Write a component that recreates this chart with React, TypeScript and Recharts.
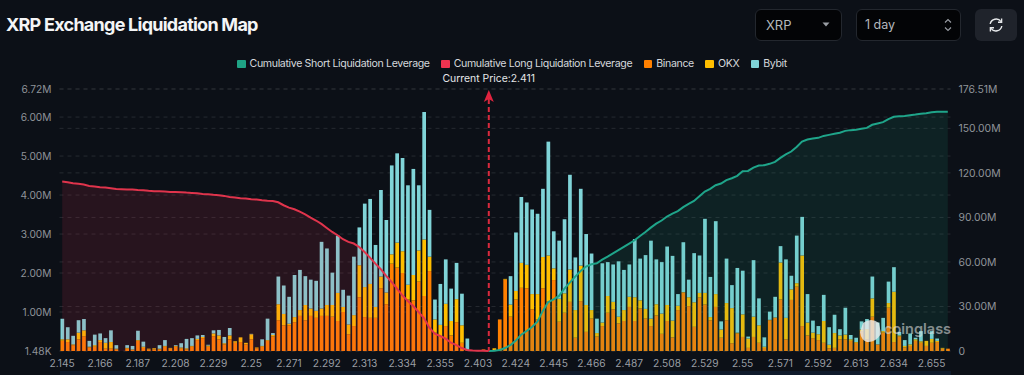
import {
  Area,
  Bar,
  CartesianGrid,
  ComposedChart,
  Legend,
  ReferenceLine,
  XAxis,
  YAxis,
} from "recharts";

// values in millions
const priceLabels = [
  "2.145", "2.166", "2.187", "2.208", "2.229", "2.25", "2.271", "2.292",
  "2.313", "2.334", "2.355", "2.403", "2.424", "2.445", "2.466", "2.487",
  "2.508", "2.529", "2.55", "2.571", "2.592", "2.613", "2.634", "2.655",
];

const binance = [
  0.26, 0.23, 0.15, 0.3, 0.38, 0.09, 0.11, 0.23, 0.06, 0.06, 0.04, 0, 0.06, 0.03, 0.26, 0.08, 0.04, 0.04, 0.04, 0.11,
  0.06, 0.11, 0.06, 0.04, 0.11, 0.28, 0.33, 0.11, 0.38, 0.3, 0.17, 0.3, 0.21, 0.23, 0.17, 0.3, 0.07, 0.11, 0.26, 0.37,
  0.79, 0.66, 0.66, 0.74, 0.9, 0.79, 0.9, 0.85, 0.9, 0.9, 0.88, 0.77, 1.0, 0.43, 0.64, 1.38, 0.87, 0.85, 0.85, 1.61,
  1.2, 2.24, 2.14, 2.0, 1.32, 1.3, 1.78, 1.41, 2.05, 0.47, 0.36, 0.64, 0.4, 0.74, 0.21, 0.02, 0.01, 0.01, 0.04, 0.01,
  0.02, 0.81, 1.83, 0.88, 1.32, 1.62, 1.61, 1.07, 0.81, 1.61, 1.28, 1.82, 0.75, 0.98, 1.26, 0.34, 1.28, 0.49, 0.83, 0.37,
  0.64, 0.98, 1.07, 0.71, 0.77, 1.13, 0.77, 1.09, 0.83, 0.64, 0.91, 0.44, 0.77, 0.35, 1.05, 1.5, 1.15, 0.62, 1.37, 1.19,
  0.79, 1.13, 0.34, 0.79, 0.2, 0.45, 0.36, 0.08, 0.36, 0.21, 0.08, 0.79, 0.85, 1.32, 0.3, 1.31, 1.65, 0.64, 0.4, 0.33,
  0.28, 0.21, 0.07, 0.08, 0.3, 0.3, 0.26, 0.21, 0.51, 0.3, 0.88, 0.17, 0.47, 1.11, 0.23, 0.37, 0.09, 0.13, 0.26, 0.21,
  0.13, 0.21, 0.23, 0.06, 0.06,
];

const okx = [
  0.04, 0.07, 0.02, 0.17, 0.15, 0.02, 0.04, 0.05, 0.15, 0.17, 0.02, 0, 0.02, 0.01, 0.02, 0.03, 0.02, 0.03, 0.02, 0.02,
  0.02, 0.02, 0.03, 0.03, 0.02, 0.03, 0.03, 0.03, 0.07, 0.1, 0.03, 0.1, 0.04, 0.12, 0.04, 0.13, 0.02, 0.02, 0.02, 0.04,
  0.41, 0.29, 0.04, 0.13, 0.15, 0.39, 0.19, 0.18, 0.19, 0.28, 0.3, 0.72, 0.13, 0.25, 0.28, 0.82, 0.77, 0.87, 0.28, 0.3,
  0.3, 0.24, 0.64, 0.56, 0.38, 0.65, 0.8, 1.45, 0.37, 0.34, 0.31, 0.57, 0.37, 0.59, 0.45, 0.01, 0, 0, 0, 0,
  0.05, 0, 0.02, 0.31, 0.22, 0.64, 0.6, 0.39, 0.65, 0.8, 1.17, 0.3, 0.59, 0.5, 0.83, 0.71, 0.91, 0.69, 0.22, 0.09,
  0.09, 0.43, 0.19, 0.17, 0.28, 0.26, 0.61, 0.21, 0.25, 0.19, 0.29, 0.52, 0.41, 0.43, 0.11, 0.01, 0.23, 0.63, 0.12, 0.3,
  0.08, 0.33, 0.21, 0.44, 0.9, 0.02, 0.58, 0.24, 0.52, 0.45, 0.03, 0.01, 0.01, 0.95, 0.55, 0.27, 0.09, 1.81, 0.33, 0.14,
  0.15, 0.56, 0.09, 0.38, 0.1, 0.12, 0.04, 0.02, 0.04, 0.26, 0.47, 0, 0.04, 0.12, 1.29, 0.03, 0.04, 0.04, 0.04, 0.04,
  0.13, 0.1, 0.03, 0.02, 0,
];

const bybit = [
  0.53, 0.31, 0.22, 0.32, 0.29, 0.15, 0.27, 0.17, 0.12, 0.3, 0.09, 0, 0.07, 0.09, 0.24, 0.13, 0, 0, 0.09, 0.15,
  0, 0.02, 0.11, 0.24, 0.2, 0.09, 0.05, 0.02, 0.08, 0.14, 0.16, 0.19, 0, 0, 0, 0.01, 0, 0.17, 0.55, 0.05,
  0.71, 0.73, 0.69, 1.08, 1.03, 0.74, 0.74, 0.77, 1.71, 1.45, 0.83, 1.47, 0.44, 0.74, 1.5, 0.97, 2.14, 2.18, 1.59, 2.22,
  1.86, 2.28, 2.29, 2.39, 2.55, 2.72, 1.67, 3.27, 1.2, 0.51, 1.05, 1.14, 0.83, 0.93, 0.81, 0.29, 0, 0, 0, 0,
  0, 0, 0, 0.73, 1.5, 1.69, 1.6, 2.17, 2.06, 1.75, 2.92, 0.95, 1.49, 1.9, 2.43, 1.35, 1.97, 1.82, 1.45, 0.37,
  1.52, 0.87, 0.96, 1.42, 1.03, 0.83, 1.49, 1.07, 1.38, 2.0, 1.15, 1.32, 1.5, 1.66, 0.3, 1.28, 0.45, 1.26, 0.96, 1.9,
  1.03, 1.87, 0.21, 1.14, 0.59, 1.66, 1.12, 0.05, 1.45, 0.69, 0.24, 0.21, 0.53, 0.42, 1.5, 0.35, 1.22, 0.99, 0.73, 0.31,
  0.21, 0.67, 0.45, 0.47, 0.16, 0.69, 0.11, 0.11, 0.21, 0.26, 0.56, 0.56, 0.34, 0.55, 0.63, 0.09, 0.15, 0.28, 0.04, 0.26,
  0, 0.2, 0.06, 0, 0,
];

// cumulative long covers the left side up to the current price
const cumulativeLong = [
  114.2, 113.7, 113.0, 112.6, 112.1, 111.2, 110.8, 110.3, 110.1, 109.7, 109.2, 109.0, 108.8, 108.8, 108.5, 108.3, 107.9, 107.6, 107.6, 107.4,
  107.2, 107.2, 107.0, 106.7, 106.5, 106.3, 105.8, 105.6, 105.2, 104.9, 104.5, 103.8, 103.4, 102.9, 102.7, 102.2, 102.0, 101.6, 101.3, 101.1,
  100.2, 98.2, 96.6, 95.5, 93.9, 92.1, 89.9, 87.9, 85.6, 82.9, 80.2, 78.0, 75.3, 73.5, 72.4, 70.1, 66.7, 62.9, 58.9, 55.1,
  50.6, 46.5, 42.0, 37.5, 33.7, 30.3, 26.3, 22.2, 15.7, 11.7, 10.1, 8.3, 5.6, 4.0, 2.0, 0.7, 0.3, 0.2, 0.1, 0,
];

// cumulative short starts at the same index where long ends
const cumulativeShort = [
  0, 0.2, 0.7, 2.0, 4.0, 7.0, 11.0, 13.5, 16.2, 19.8, 27.0, 33.0, 34.8, 37.1, 42.0, 46.1, 50.1, 53.9, 56.9, 58.4,
  59.1, 61.6, 63.6, 65.8, 67.9, 70.1, 72.4, 74.6, 77.5, 80.2, 83.1, 85.8, 87.9, 90.6, 92.6, 94.2, 96.9, 99.1, 101.1, 104.3,
  107.4, 109.2, 111.7, 112.8, 115.1, 116.4, 118.0, 121.1, 121.3, 123.6, 124.9, 125.2, 126.1, 127.4, 130.1, 132.4, 134.4, 137.5, 141.1, 142.5,
  143.1, 143.6, 144.9, 145.6, 146.3, 147.0, 148.3, 148.8, 149.0, 149.7, 150.3, 152.4, 153.3, 154.2, 156.2, 157.8, 158.2, 158.4, 158.9, 159.3,
  159.8, 160.2, 160.9, 161.1, 161.1, 161.1,
];

const leftTicks = [0.00148, 1, 2, 3, 4, 5, 6, 6.72];
const rightTicks = [0, 30, 60, 90, 120, 150, 176.51];

const currentPriceIndex = 79;
const shortStart = 79;

const legendItems = [
  { name: "Cumulative Short Liquidation Leverage", color: "#1fa385" },
  { name: "Cumulative Long Liquidation Leverage", color: "#ef3350" },
  { name: "Binance", color: "#ff8000" },
  { name: "OKX", color: "#ffbe00" },
  { name: "Bybit", color: "#80d4d8" },
];

const chartData = binance.map((b, i) => ({
  idx: i,
  binance: b,
  okx: okx[i],
  bybit: bybit[i],
  long: i < cumulativeLong.length ? cumulativeLong[i] : null,
  short: i >= shortStart ? cumulativeShort[i - shortStart] : null,
}));

const FONT = "Inter, sans-serif";

function formatLeft(v: number) {
  return v < 1 ? (v * 1000).toFixed(2) + "K" : v.toFixed(2) + "M";
}

function formatRight(v: number) {
  return v === 0 ? "0" : v.toFixed(2) + "M";
}

function LegendRow() {
  return (
    <div
      style={{
        display: "flex",
        justifyContent: "center",
        gap: 11.5,
        fontFamily: FONT,
        fontSize: 10.6,
        letterSpacing: -0.36,
        color: "#d5d8dc",
        lineHeight: "14px",
      }}
    >
      {legendItems.map((item) => (
        <div key={item.name} style={{ display: "flex", alignItems: "center", gap: 4 }}>
          <span style={{ width: 8.5, height: 8.5, background: item.color, display: "inline-block", borderRadius: 1 }} />
          {item.name}
        </div>
      ))}
    </div>
  );
}

function PriceArrow(props: any) {
  const { x1, y1, y2 } = props;
  const top = Math.min(y1, y2);
  const bottom = Math.max(y1, y2);
  return (
    <g>
      <line x1={x1} x2={x1} y1={top + 10} y2={bottom} stroke="#d92a3e" strokeWidth={2} strokeDasharray="5 3" />
      <path d={`M${x1} ${top + 1} L${x1 + 5} ${top + 13} L${x1} ${top + 10} L${x1 - 5} ${top + 13} Z`} fill="#e0233f" />
    </g>
  );
}

function Header() {
  const box = {
    position: "absolute" as const,
    top: 9,
    height: 32,
    boxSizing: "border-box" as const,
    background: "#030406",
    border: "1px solid #23272e",
    borderRadius: 6,
    color: "#b4b8bd",
    fontSize: 13,
    lineHeight: "30px",
    paddingLeft: 10,
  };
  return (
    <>
      <div
        style={{
          position: "absolute",
          left: 6,
          top: 13,
          fontSize: 18,
          fontWeight: 700,
          letterSpacing: -0.75,
          color: "#f4f5f6",
          lineHeight: "24px",
        }}
      >
        XRP Exchange Liquidation Map
      </div>
      <div style={{ ...box, left: 755, width: 87 }}>
        XRP
        <svg width="8" height="5" style={{ position: "absolute", left: 66, top: 12 }}>
          <path d="M0.5 0.5 H7.5 L4 4.5 Z" fill="#9a9ea4" />
        </svg>
      </div>
      <div style={{ ...box, left: 856, width: 105, paddingLeft: 8, fontSize: 12.5 }}>
        1 day
        <svg width="8" height="14" style={{ position: "absolute", left: 87, top: 8 }} fill="none" stroke="#9a9ea4" strokeWidth="1.1">
          <path d="M1 4.5 L4 1.5 L7 4.5" />
          <path d="M1 9.5 L4 12.5 L7 9.5" />
        </svg>
      </div>
      <div style={{ position: "absolute", left: 975, top: 9, width: 42, height: 32, background: "#1f232b", borderRadius: 6 }}>
        <svg width="16" height="16" viewBox="0 0 16 16" style={{ position: "absolute", left: 13, top: 8 }} fill="none" stroke="#e6e8ea" strokeWidth="1.4">
          <path d="M2.2 7 A6 6 0 0 1 13 4.6" />
          <path d="M13.8 9 A6 6 0 0 1 3 11.4" />
          <path d="M13.6 1.6 V5.2 H10" />
          <path d="M2.4 14.4 V10.8 H6" />
        </svg>
      </div>
    </>
  );
}

function Watermark() {
  return (
    <>
      <svg width="24" height="26" style={{ position: "absolute", left: 859, top: 318 }}>
        <path d="M4 5 Q12 -1 20 5 L22 16 Q16 25 8 24 Q2 22 1 14 Z" fill="rgba(235,235,235,0.8)" />
      </svg>
      <div
        style={{
          position: "absolute",
          left: 884,
          top: 318,
          fontSize: 14.5,
          fontWeight: 600,
          lineHeight: "22px",
          color: "rgba(225,225,225,0.58)",
        }}
      >
        coinglass
      </div>
    </>
  );
}

export default function App() {
  return (
    <div
      style={{
        position: "absolute",
        left: 0,
        top: 0,
        width: 1024,
        height: 375,
        overflow: "hidden",
        background: "#0c1017",
        fontFamily: FONT,
      }}
    >
      <Header />
      <div style={{ position: "absolute", left: 60, top: 371, width: 891, height: 4, background: "#0f1a2b" }} />
      <div style={{ position: "absolute", left: 0, top: 0 }}>
        <ComposedChart
          width={1024}
          height={375}
          data={chartData}
          margin={{ top: 57, right: 0, bottom: 0, left: 0 }}
          barCategoryGap={0}
        >
          <Legend verticalAlign="top" height={32} content={() => <LegendRow />} />
          <CartesianGrid yAxisId="left" vertical={false} stroke="#262a31" strokeDasharray="4 4" syncWithTicks />
          <CartesianGrid yAxisId="right" vertical={false} stroke="#262a31" strokeDasharray="4 4" syncWithTicks />
          <XAxis
            dataKey="idx"
            interval={6}
            height={24}
            axisLine={false}
            tickLine={false}
            tickMargin={3}
            tick={{ fill: "#9a9ea4", fontSize: 10.2 }}
            tickFormatter={(v: number) => priceLabels[v / 7] ?? ""}
          />
          <YAxis
            yAxisId="left"
            orientation="left"
            width={59.5}
            domain={[0, 6.72]}
            ticks={leftTicks}
            interval={0}
            axisLine={false}
            tickLine={false}
            tickMargin={2}
            tick={{ fill: "#8f9399", fontSize: 10.2 }}
            tickFormatter={formatLeft}
          />
          <YAxis
            yAxisId="right"
            orientation="right"
            width={73.5}
            domain={[0, 176.51]}
            ticks={rightTicks}
            interval={0}
            axisLine={false}
            tickLine={false}
            tickMargin={2}
            tick={{ fill: "#8f9399", fontSize: 10.4 }}
            tickFormatter={formatRight}
          />
          <Bar yAxisId="left" dataKey="binance" stackId="ex" fill="#ff8000" barSize={3.7} isAnimationActive={false} />
          <Bar yAxisId="left" dataKey="okx" stackId="ex" fill="#ffbe00" barSize={3.7} isAnimationActive={false} />
          <Bar yAxisId="left" dataKey="bybit" stackId="ex" fill="#80d4d8" barSize={3.7} isAnimationActive={false} />
          <Area
            yAxisId="right"
            dataKey="long"
            type="linear"
            stroke="#e0344c"
            strokeWidth={2}
            fill="#ef3350"
            fillOpacity={0.12}
            dot={false}
            activeDot={false}
            isAnimationActive={false}
            zIndex={350}
          />
          <Area
            yAxisId="right"
            dataKey="short"
            type="linear"
            stroke="#1fa58a"
            strokeWidth={2}
            fill="#1fa385"
            fillOpacity={0.12}
            dot={false}
            activeDot={false}
            isAnimationActive={false}
            zIndex={350}
          />
          <ReferenceLine
            yAxisId="left"
            x={currentPriceIndex}
            shape={PriceArrow}
            label={{ value: "Current Price:2.411", position: "top", fill: "#e4e6e8", fontSize: 10.4, offset: 7 }}
          />
        </ComposedChart>
      </div>
      <Watermark />
    </div>
  );
}
